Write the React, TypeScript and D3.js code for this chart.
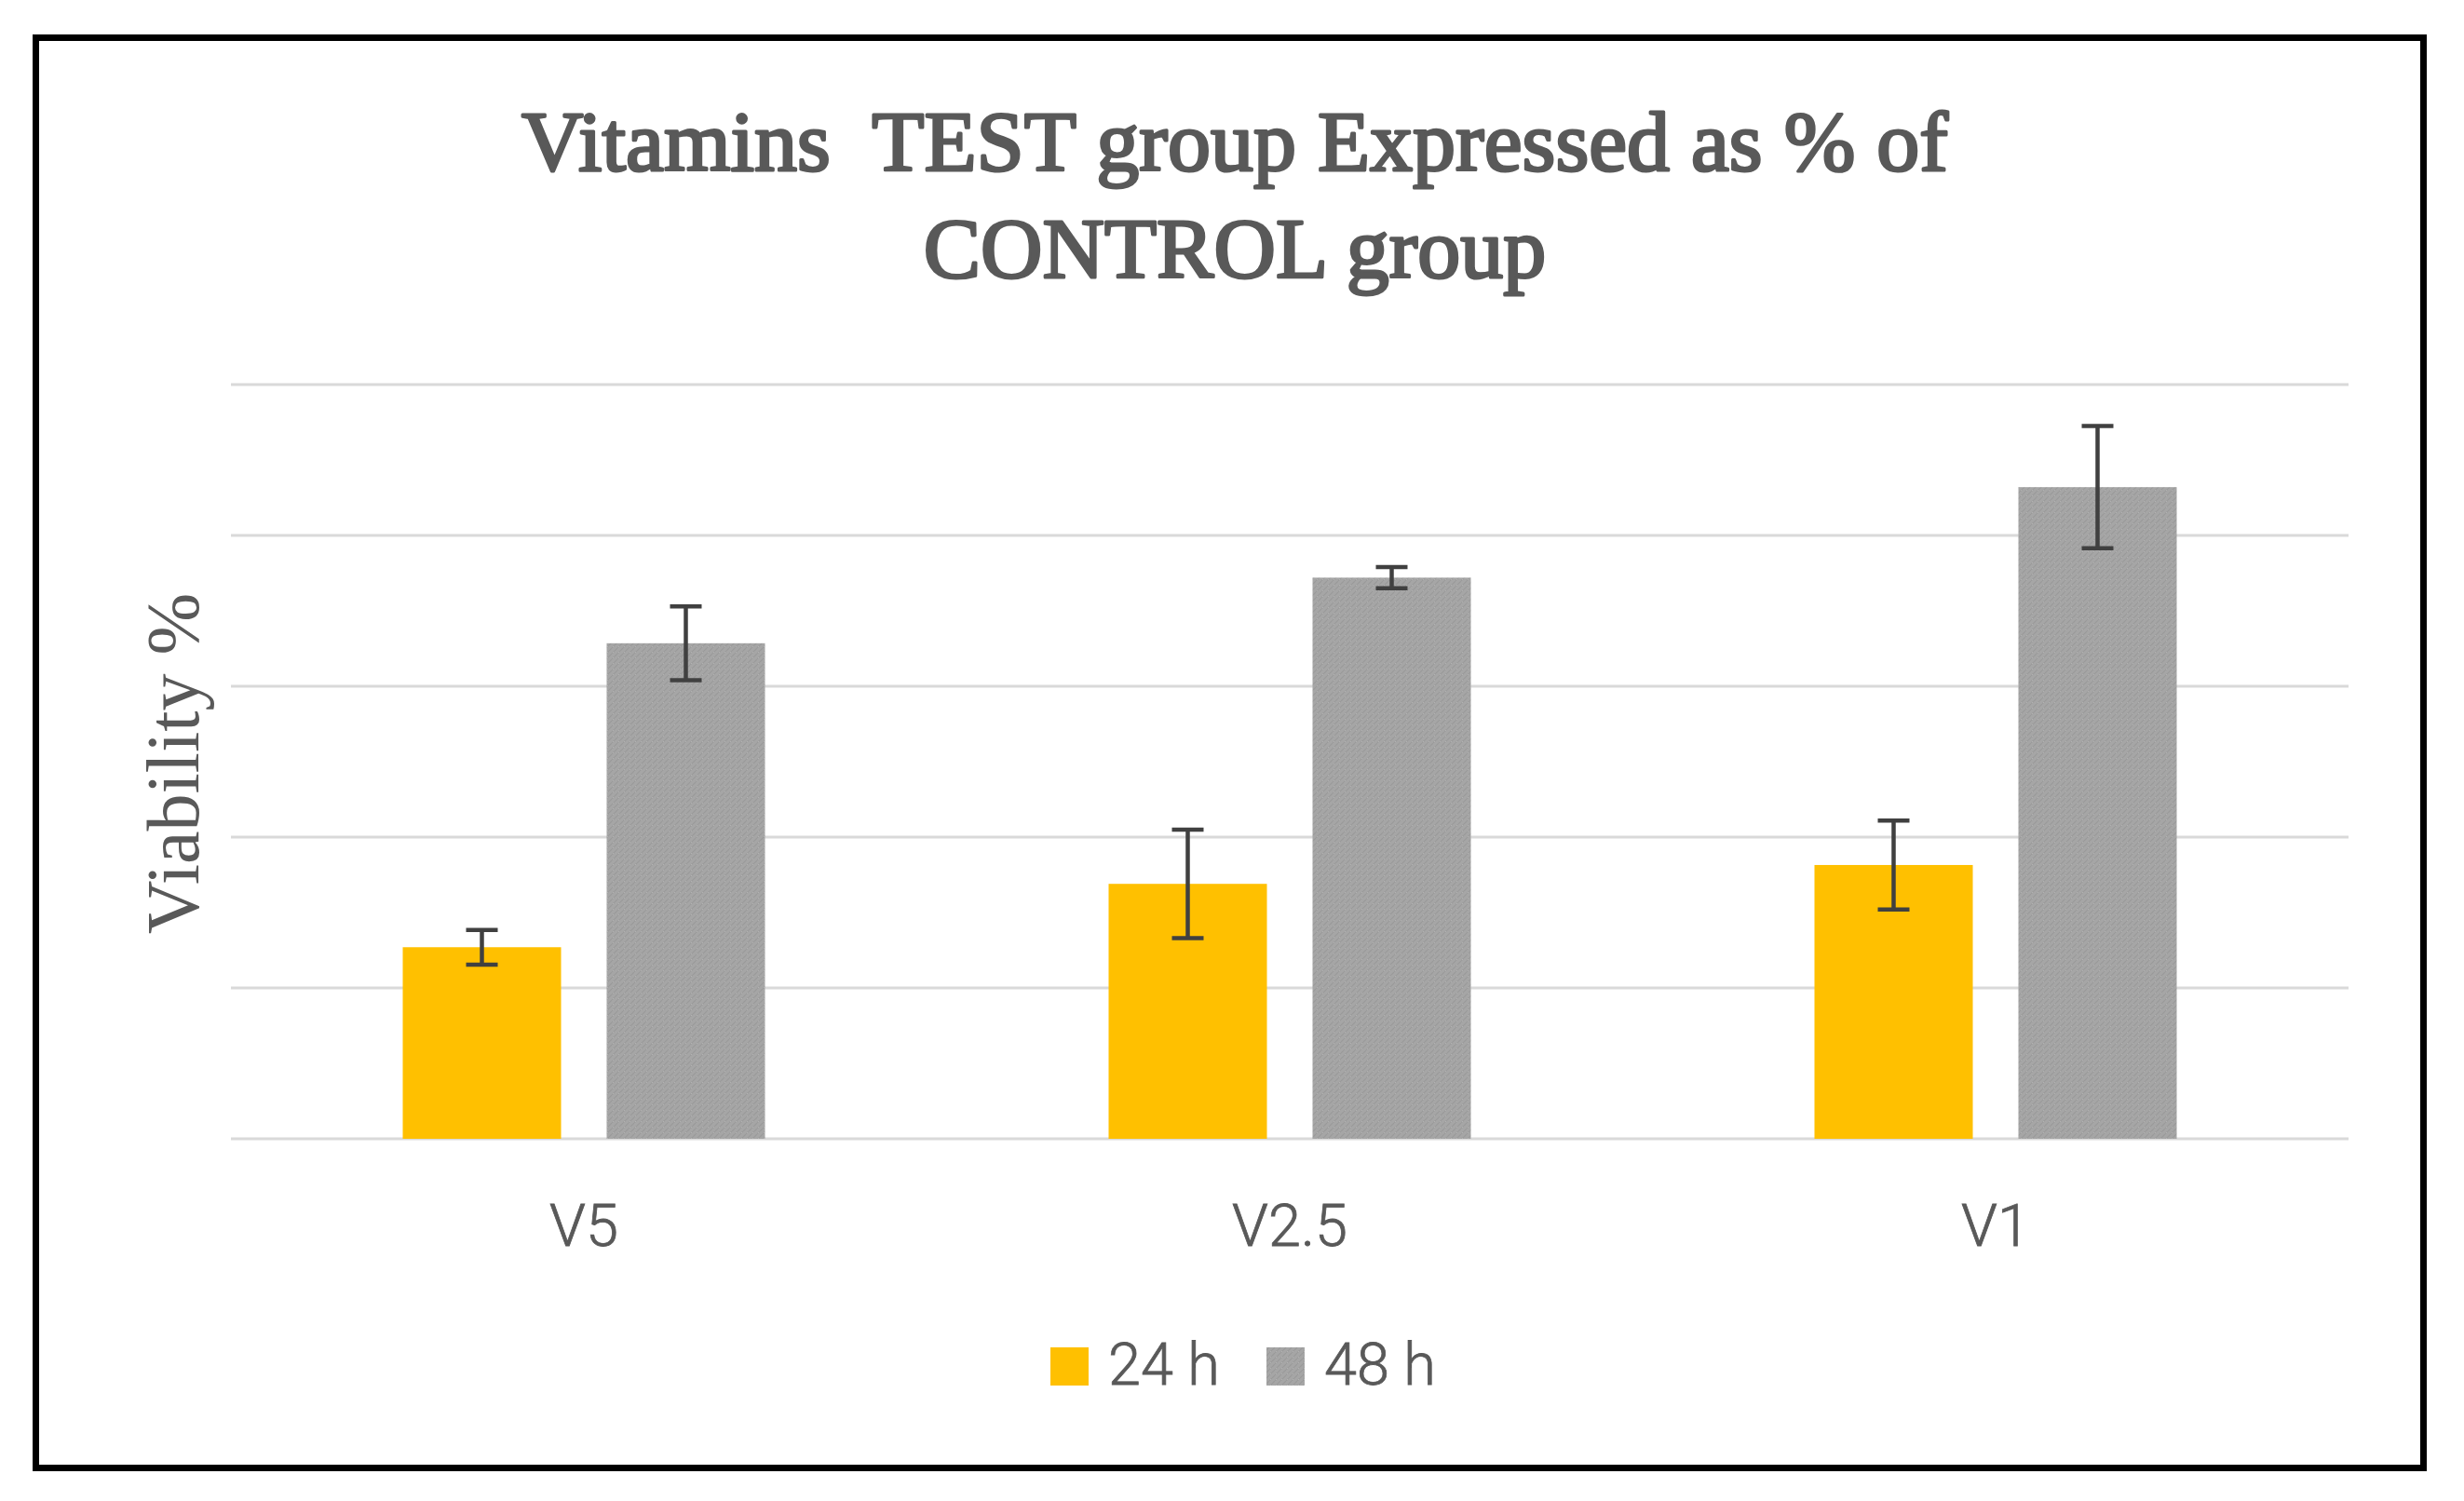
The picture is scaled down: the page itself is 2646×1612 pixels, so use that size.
import React from 'react';
import * as d3 from 'd3';

// chart values
const categories = ['V5', 'V2.5', 'V1'];
const seriesNames = ['24 h', '48 h'];
const values24 = [25.4, 33.8, 36.3];
const errors24 = [2.3, 7.2, 5.9];
const values48 = [65.7, 74.4, 86.4];
const errors48 = [4.9, 1.4, 8.1];
const yTicks = [0, 20, 40, 60, 80, 100];
const titleLines = ['Vitamins  TEST group Expressed as % of', 'CONTROL group'];
const yLabel = 'Viability %';

const W = 2646;
const H = 1612;
const margin = { top: 413, right: 124, bottom: 389, left: 248 };
const colors = ['#ffc000', 'url(#grayTex)'];

const App: React.FC = () => {
  const x0 = d3
    .scaleBand<string>()
    .domain(categories)
    .range([margin.left, W - margin.right])
    .padding(0);

  const groupW = 389;
  const bw = x0.bandwidth();
  const x1 = d3
    .scaleBand<string>()
    .domain(seriesNames)
    .range([(bw - groupW) / 2, (bw + groupW) / 2])
    .paddingInner(0.2237)
    .paddingOuter(0);

  const y = d3
    .scaleLinear()
    .domain([0, 100])
    .range([H - margin.bottom, margin.top]);

  const series = [
    { name: seriesNames[0], values: values24, errors: errors24 },
    { name: seriesNames[1], values: values48, errors: errors48 },
  ];

  const textColor = '#595959';
  const capW = 34;

  return (
    <svg
      width={W}
      height={H}
      style={{ position: 'absolute', left: 0, top: 0, background: '#fff' }}
    >
      <defs>
        <pattern id="grayTex" width="6" height="6" patternUnits="userSpaceOnUse">
          <rect width="6" height="6" fill="#a6a6a6" />
          <path d="M0 3 L3 0 M3 6 L6 3" stroke="#9a9a9a" strokeWidth="1.2" />
          <rect x="4" y="4" width="1" height="1" fill="#b2b2b2" />
        </pattern>
      </defs>

      <rect x={0} y={0} width={W} height={H} fill="#fff" />

      {/* title - regular serif thickened with a stroke (semibold look) */}
      <g
        fontFamily="'Liberation Serif', 'DejaVu Serif', serif"
        fontSize={92}
        fill={textColor}
        stroke={textColor}
        strokeWidth={3}
        strokeLinejoin="round"
        textAnchor="middle"
      >
        {titleLines.map((t, i) => (
          <text key={i} x={1326} y={183 + i * 115} style={{ whiteSpace: 'pre' }}>
            {t}
          </text>
        ))}
      </g>

      {/* gridlines */}
      <g>
        {yTicks.map((t) => (
          <line
            key={t}
            x1={margin.left}
            x2={W - margin.right}
            y1={y(t)}
            y2={y(t)}
            stroke="#d9d9d9"
            strokeWidth={3}
          />
        ))}
      </g>

      {/* bars */}
      {series.map((s, si) => (
        <g key={s.name}>
          {categories.map((c, ci) => (
            <rect
              key={c}
              x={x0(c)! + x1(s.name)!}
              y={y(s.values[ci])}
              width={x1.bandwidth()}
              height={y(0) - y(s.values[ci])}
              fill={colors[si]}
            />
          ))}
        </g>
      ))}

      {/* error bars */}
      {series.map((s) => (
        <g key={s.name + '-err'} stroke="#404040" strokeWidth={4.5}>
          {categories.map((c, ci) => {
            const cx = x0(c)! + x1(s.name)! + x1.bandwidth() / 2;
            const hi = y(s.values[ci] + s.errors[ci]);
            const lo = y(s.values[ci] - s.errors[ci]);
            return (
              <g key={c}>
                <line x1={cx} x2={cx} y1={hi} y2={lo} />
                <line x1={cx - capW / 2} x2={cx + capW / 2} y1={hi} y2={hi} />
                <line x1={cx - capW / 2} x2={cx + capW / 2} y1={lo} y2={lo} />
              </g>
            );
          })}
        </g>
      ))}

      {/* category labels */}
      <g fontFamily="Roboto, 'Open Sans', sans-serif" fontWeight={300} fontSize={63} fill={textColor} stroke={textColor} strokeWidth={0.8} textAnchor="middle">
        {categories.map((c) => (
          <text key={c} x={x0(c)! + bw / 2} y={1338}>
            {c}
          </text>
        ))}
      </g>

      {/* y axis label */}
      <text
        transform={`translate(213, ${(y(0) + y(100)) / 2 + 2}) rotate(-90)`}
        fontFamily="'Liberation Serif', 'DejaVu Serif', serif"
        fontSize={80}
        fill={textColor}
        textAnchor="middle"
      >
        {yLabel}
      </text>

      {/* legend */}
      <g fontFamily="Roboto, 'Open Sans', sans-serif" fontWeight={300} fontSize={63} fill={textColor} stroke={textColor} strokeWidth={0.8}>
        {seriesNames.map((n, i) => (
          <g key={n} transform={`translate(${1128 + i * 232}, 1447)`}>
            <rect width={41} height={41} fill={colors[i]} stroke="none" />
            <text x={62} y={40}>
              {n}
            </text>
          </g>
        ))}
      </g>

      {/* outer frame */}
      <rect x={38.5} y={40.5} width={2564} height={1536} fill="none" stroke="#000" strokeWidth={7} />
    </svg>
  );
};

export default App;
